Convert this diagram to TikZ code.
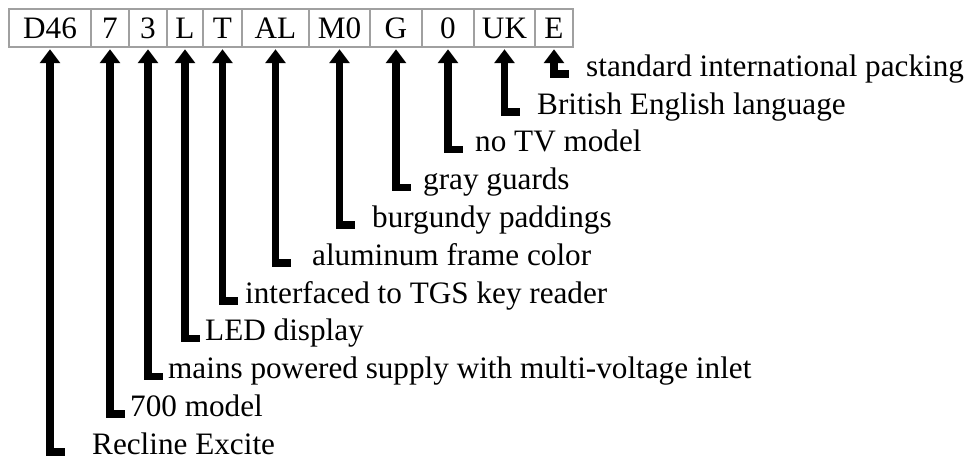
\documentclass[tikz,border=0pt]{standalone}
\usepackage{fontspec}
\setmainfont{Liberation Serif}
\usetikzlibrary{arrows.meta}
\definecolor{codegrid}{HTML}{A0A0A0}
\tikzset{
  field/.style  ={draw=codegrid, line width=1.5pt, minimum height=38pt,
                  inner sep=0pt, text height=22pt, text depth=0pt},
  meaning/.style={anchor=mid west, inner sep=0pt},
  lead/.style   ={{Triangle[width=20pt,length=14pt]}-, line width=7.5pt,
                  shorten <=1.5pt},
}

\begin{document}
\begin{tikzpicture}[x=1pt, y=-1pt, font=\fontsize{31.2}{37}\selectfont]
  \useasboundingbox (0,0) rectangle (974,465);

  % the code, one field per box: left edge / right edge / text
  \foreach [count=\i] \l/\r/\txt in {9/91/D46, 91/129/7, 129/167/3, 167/203/L,
      203/242/T, 242/309/AL, 309/370/M0, 370/422/G, 422/474/0, 474/535/UK,
      535/573/E} {
    \node[field, minimum width={(\r-\l)*1pt}] (f\i) at ({(\l+\r)/2},28) {\txt};
  }

  % what each field means, bottom row first
  \foreach [count=\i] \tx/\txt in {92/Recline Excite, 130/700 model,
      168/mains powered supply with multi-voltage inlet, 205/LED display,
      245/interfaced to TGS key reader, 312/aluminum frame color,
      372/burgundy paddings, 423/gray guards, 475/no TV model,
      537/British English language, 586/standard international packing} {
    \pgfmathsetmacro\ly{74+(11-\i)*37.8}
    \node[meaning] (m\i) at (\tx,\ly) {\txt};
    \path (f\i.south |- m\i.mid west) ++(15,0) coordinate (s\i);
    \draw[lead] (f\i.south) |- (s\i);
  }
\end{tikzpicture}
\end{document}
